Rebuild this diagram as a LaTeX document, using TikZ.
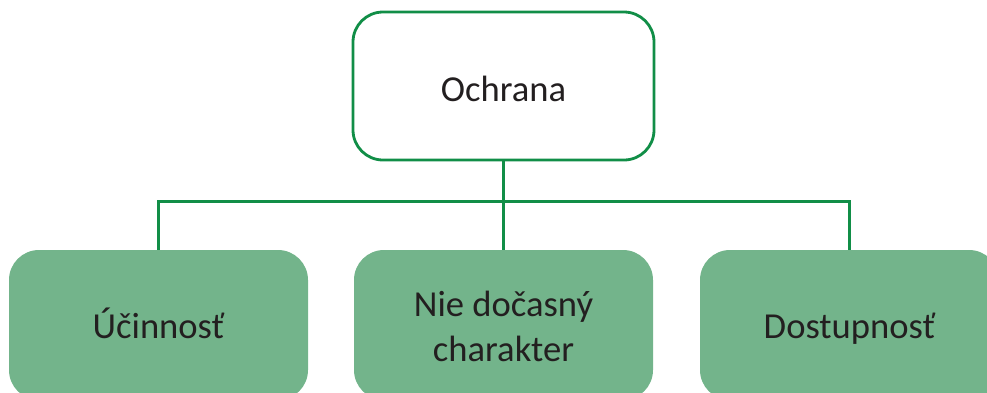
\documentclass[tikz,border=0pt]{standalone}
\usepackage{fontspec}
\setmainfont{Carlito}
\definecolor{linegreen}{HTML}{118E47}
\definecolor{boxgreen}{HTML}{73B48B}
\definecolor{textdark}{HTML}{231F20}
\begin{document}
\begin{tikzpicture}[x=1pt,y=-1pt,
  every node/.style={font=\fontsize{36.6}{45}\selectfont, text=textdark, align=center, inner sep=0pt},
  rootbox/.style={draw=linegreen, line width=2.8pt, fill=white, rounded corners=30pt,
                  minimum width=301pt, minimum height=148pt},
  leafbox/.style={fill=boxgreen, rounded corners=30pt,
                  minimum width=299pt, minimum height=150pt},
  link/.style={draw=linegreen, line width=2.4pt}]
  \useasboundingbox (0,0) rectangle (987,392);
  \clip (0,0) rectangle (987,392);

  % connectors first, so the boxes sit on top of them
  \coordinate (bus) at (503.5,201.5);
  \coordinate (rootfoot) at (503.5,160);
  \coordinate (leftfoot) at (158.5,250);
  \coordinate (midfoot) at (503.5,250);
  \coordinate (rightfoot) at (849.5,250);
  \draw[link] (rootfoot) -- (midfoot);
  \draw[link] (leftfoot) |- (bus) -| (rightfoot);

  % root
  \node[rootbox] (root) at (503.5,86) {};
  \node[anchor=base] (roottext) at (503.5,101) {Ochrana};

  % leaves
  \node[leafbox] (left) at (158.5,325) {};
  \node[leafbox] (mid) at (503.5,325) {};
  \node[leafbox] (right) at (849.5,325) {};
  \node[anchor=base] (lefttext) at (158.5,338) {Účinnosť};
  \node[anchor=base] (midtext1) at (503.5,316) {Nie dočasný};
  \node[anchor=base] (midtext2) at (503.5,361) {charakter};
  \node[anchor=base] (righttext) at (849.5,338) {Dostupnosť};
\end{tikzpicture}
\end{document}
